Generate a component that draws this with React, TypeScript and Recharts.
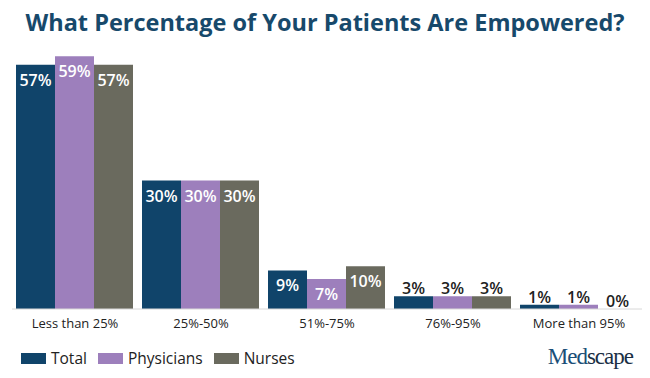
import React from 'react';
import { BarChart, Bar, XAxis, YAxis, LabelList } from 'recharts';

const categories = ['Less than 25%', '25%-50%', '51%-75%', '76%-95%', 'More than 95%'];
const total = [57, 30, 9, 3, 1];
const physicians = [59, 30, 7, 3, 1];
const nurses = [57, 30, 10, 3, 0];

const series = [
  { key: 'total', name: 'Total', color: '#10446a' },
  { key: 'physicians', name: 'Physicians', color: '#9d7fbc' },
  { key: 'nurses', name: 'Nurses', color: '#6a6a5e' },
];

const data = categories.map((name, i) => ({
  name,
  total: total[i],
  physicians: physicians[i],
  nurses: nurses[i],
}));

const FONT = '"Open Sans", Lato, sans-serif';

// big bars get a white label inside the top, small ones a dark label on top
const renderLabel = (props: any) => {
  const { x, y, width, value } = props;
  const inside = value >= 7;
  return (
    <text
      x={x + width / 2}
      y={inside ? y + 15 : y - 8}
      textAnchor="middle"
      dominantBaseline="central"
      fill={inside ? '#ffffff' : '#222222'}
      fontSize={16}
      fontWeight={600}
      fontFamily={FONT}
    >
      {value}%
    </text>
  );
};

export default function App() {
  return (
    <div style={{ position: 'absolute', left: 0, top: 0, width: 650, height: 378, background: '#fff', fontFamily: FONT }}>
      <div
        style={{
          position: 'absolute',
          left: 0,
          top: 6,
          width: 650,
          textAlign: 'center',
          fontSize: 23.5,
          fontWeight: 700,
          color: '#17496b',
        }}
      >
        What Percentage of Your Patients Are Empowered?
      </div>

      <BarChart
        width={650}
        height={378}
        data={data}
        margin={{ top: 52, right: 8, bottom: 39, left: 12 }}
        barCategoryGap={4}
        barGap={0}
      >
        <XAxis
          dataKey="name"
          height={30}
          tickLine={false}
          axisLine={{ stroke: '#d8d8d8' }}
          tick={{ fill: '#222', fontSize: 13, fontFamily: FONT }}
          tickMargin={4}
          interval={0}
        />
        <YAxis hide domain={[0, 60]} />
        {series.map((s) => (
          <Bar key={s.key} dataKey={s.key} name={s.name} fill={s.color} minPointSize={0.01} isAnimationActive={false}>
            <LabelList dataKey={s.key} content={renderLabel} />
          </Bar>
        ))}
      </BarChart>

      <div style={{ position: 'absolute', left: 21, top: 347, display: 'flex', alignItems: 'center', fontSize: 15.5, color: '#222' }}>
        {series.map((s) => (
          <div key={s.key} style={{ display: 'flex', alignItems: 'center', marginRight: 11 }}>
            <span style={{ display: 'inline-block', width: 25, height: 11, background: s.color, marginRight: 5 }} />
            <span>{s.name}</span>
          </div>
        ))}
      </div>

      <div
        style={{
          position: 'absolute',
          right: 17,
          top: 344,
          fontFamily: '"Liberation Serif", "DejaVu Serif", serif',
          fontSize: 23,
          letterSpacing: -1,
          color: '#1a2f45',
        }}
      >
        <span style={{ color: '#1b4f78' }}>Med</span>scape
      </div>
    </div>
  );
}
